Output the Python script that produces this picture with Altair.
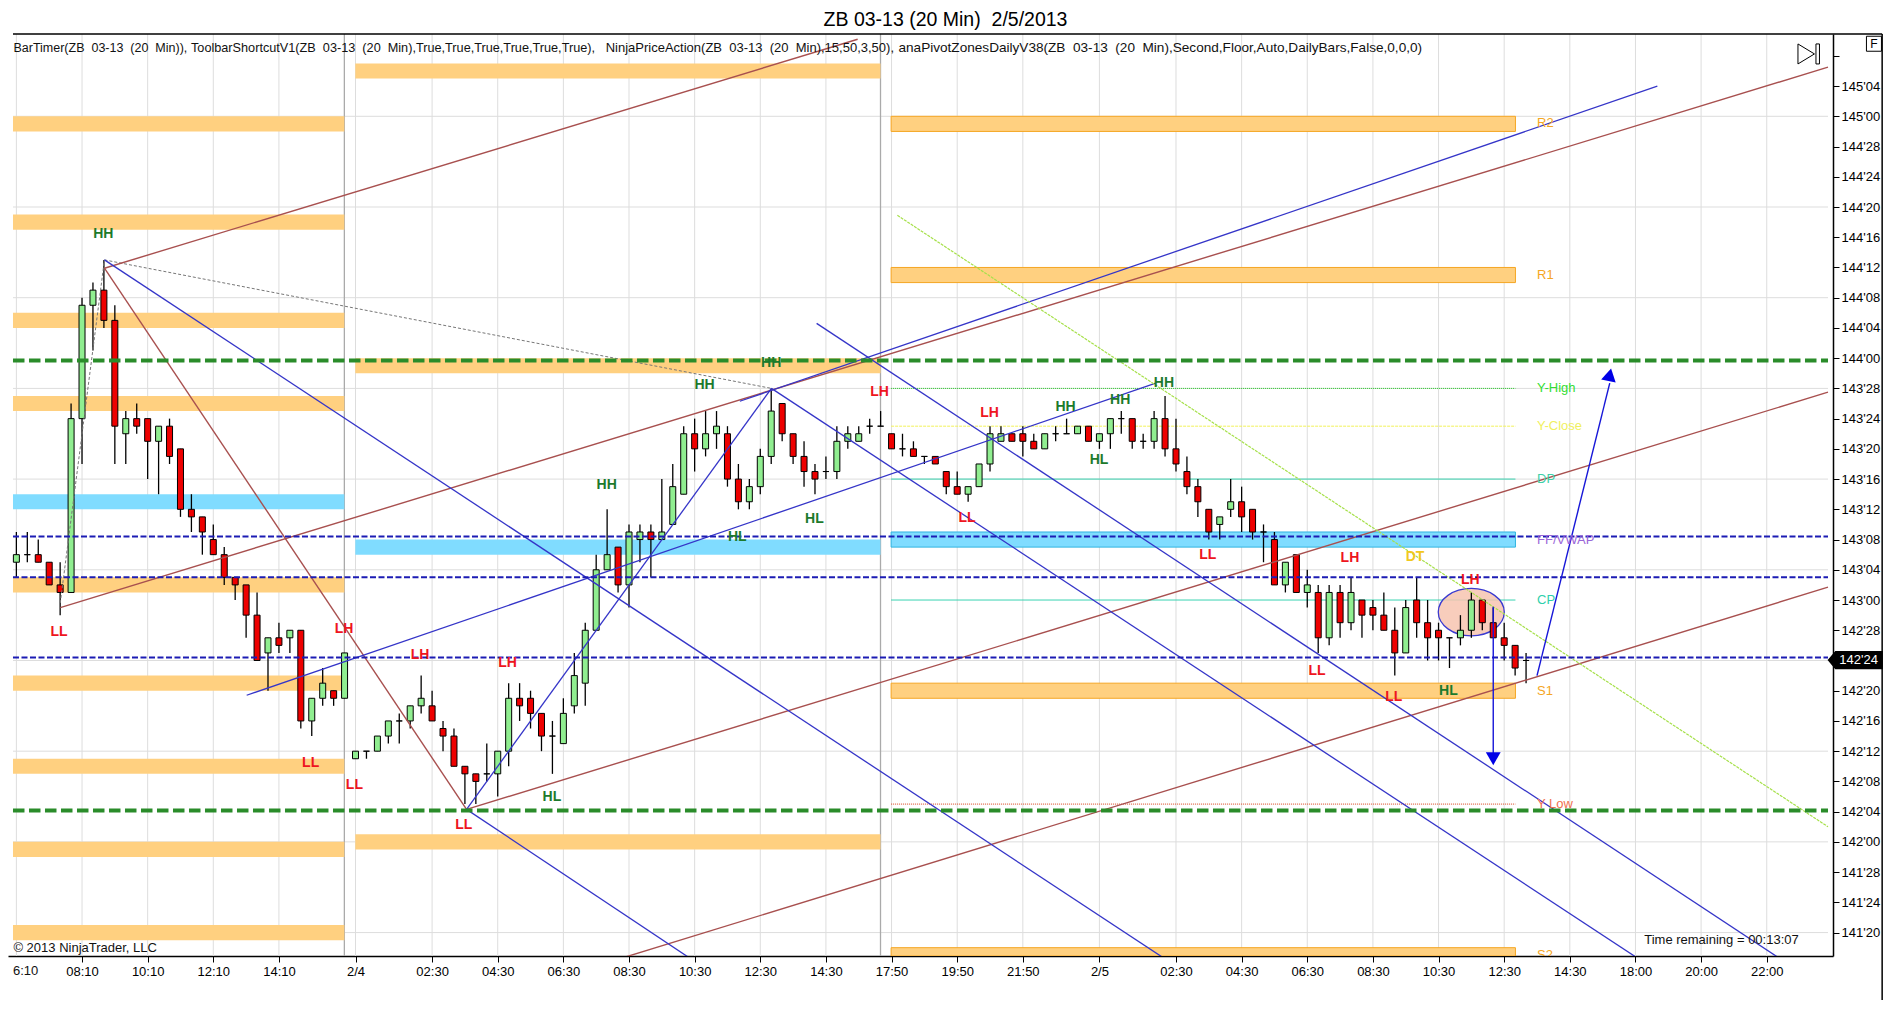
import json
import altair as alt
import pandas as pd

FONT = "Liberation Sans"

# ---- candles: price in 32nds of a point below 144'00, one value per 20 min bar
BODY_TOP = [26,26,26,27,30,8,-7,-9,-9,-5,
            8,8,8,9,9,12,20,21,24,26,
            29,30,34,37,37,36,36,45,43,44,
            39,52,52,50,48,48,46,45,46,49,
            50,54,55,55,52,45,45,45,47,50,
            47,42,36,28,26,25,23,23,23,23,
            17,10,10,10,9,10,16,17,13,7,
            6,10,13,15,15,11,10,10,9,9,
            10,12,12,13,13,15,17,17,14,10,
            10,10,10,11,10,10,10,9,9,10,
            8,8,8,11,8,8,12,15,17,20,
            21,19,19,20,23,24,27,26,30,31,
            31,31,31,32,33,34,36,33,32,35,
            36,37,36,32,32,35,37,38,40]
BODY_BOTTOM = [27,26,27,30,31,31,8,-7,-5,9,
               10,9,11,11,13,20,21,23,26,29,
               30,34,40,39,38,37,48,48,45,45,
               45,53,52,52,50,48,48,46,48,50,
               54,55,56,55,55,52,46,47,50,50,
               51,46,43,36,28,30,30,24,24,24,
               22,18,12,12,10,16,19,19,17,13,
               10,13,15,16,15,15,11,11,9,9,
               12,12,13,13,14,17,18,18,17,14,
               11,11,11,12,12,10,10,10,11,11,
               10,8,11,11,11,12,14,17,19,23,
               22,20,21,23,23,30,30,31,31,37,
               37,35,35,34,34,36,39,39,35,37,
               37,37,37,36,35,37,38,41,40]
HIGH = [23,23,24,27,27,6,-8,-10,-13,-7,
        7,6,8,9,8,12,18,21,22,25,
        29,30,31,37,35,36,36,45,41,44,
        39,52,52,50,48,47,46,42,44,48,
        49,54,55,51,52,43,43,44,47,48,
        45,39,35,26,20,25,22,22,22,16,
        14,9,8,7,7,9,14,16,12,4,
        6,10,11,14,13,9,9,9,8,7,
        10,10,11,13,13,15,15,17,14,9,
        9,10,9,10,10,9,8,9,9,10,
        8,7,8,10,7,5,8,13,16,20,
        21,16,17,20,22,23,27,26,28,30,
        30,30,29,32,32,31,33,32,29,32,
        35,37,34,31,32,33,35,38,39]
LOW = [29,27,27,30,34,31,14,-1,-4,14,
       14,10,16,18,14,21,23,26,26,30,
       32,37,40,44,39,39,49,50,46,46,
       45,53,53,52,51,51,49,47,48,52,
       54,59,59,56,58,54,48,49,52,55,
       51,47,46,36,28,31,33,27,29,24,
       22,18,15,13,12,17,20,20,18,14,
       11,14,17,18,16,16,12,11,10,9,
       12,13,13,14,14,18,18,19,17,15,
       11,11,13,12,12,11,10,10,11,12,
       12,10,12,12,12,13,15,18,21,24,
       24,21,23,24,27,30,31,31,33,39,
       38,37,36,37,36,36,42,39,37,40,
       40,41,38,37,36,37,40,42,43]
RISING = ("g g r r r g g g r r  g r r g r r r r r r  r r r g r g r g g r  g g g g g g g g r r  "
          "r r r g g g r r r g  g g g g g r g g r g  g g r g g r r g g g  r r r r g g g g g g  "
          "r g r g r r r g g g  g r r r g g g g r g  g g r g g r r r r r  g g r r g r g r g r  "
          "g r g r r r r g r r  r g g g r r r r g").split()

# ---- x axis
TICK_BARS = [6,12,18,24,31,38,44,50,56,62,68,74,80,86,92,99,106,112,118,124,130,136,142,148,154,160]
TICK_TEXT = ["08:10","10:10","12:10","14:10","2/4","02:30","04:30","06:30","08:30","10:30","12:30","14:30","17:50",
             "19:50","21:50","2/5","02:30","04:30","06:30","08:30","10:30","12:30","14:30","18:00","20:00","22:00"]
GRID_BARS = [0] + TICK_BARS
SESSION_BREAKS = [29.98, 78.99]

# ---- y axis, 32nds of a point
PRICE_TICKS = list(range(4532, 4652, 4))
PRICE_GRID = [4532,4544,4556,4568,4580,4592,4604,4616,4628,4640]

# ---- pivot zones: first bar, last bar, upper, lower, fill, edge
ORANGE, BLUE = "#ffd080", "#80dcff"
ZONES = [
    (-0.31,29.98,4640,4638,ORANGE,"transparent"),(-0.31,29.98,4627,4625,ORANGE,"transparent"),
    (-0.31,29.98,4614,4612,ORANGE,"transparent"),(-0.31,29.98,4603,4601,ORANGE,"transparent"),
    (-0.31,29.98,4590,4588,BLUE,"transparent"),(-0.31,29.98,4579,4577,ORANGE,"transparent"),
    (-0.31,29.98,4566,4564,ORANGE,"transparent"),(-0.31,29.98,4555,4553,ORANGE,"transparent"),
    (-0.31,29.98,4544,4542,ORANGE,"transparent"),(-0.31,29.98,4533,4531,ORANGE,"transparent"),
    (30.98,78.99,4647,4645,ORANGE,"transparent"),(30.98,78.99,4608,4606,ORANGE,"transparent"),
    (30.98,78.99,4584,4582,BLUE,"transparent"),(30.98,78.99,4545,4543,ORANGE,"transparent"),
    (79.96,137.03,4640,4638,ORANGE,"#f5a623"),(79.96,137.03,4620,4618,ORANGE,"#f5a623"),
    (79.96,137.03,4585,4583,BLUE,"#2fb4e0"),(79.96,137.03,4565,4563,ORANGE,"#f5a623"),
    (79.96,137.03,4530,4528.9,ORANGE,"#f5a623"),
]

# ---- today's pivot lines: price, colour, dash
PIVOT_LINES = [(4604,"#22cc22",[1,1]),(4599,"#f2f25a",[3,1]),(4592,"#2fd0ac",[1,0]),
               (4576,"#2fd0ac",[1,0]),(4549,"#d8401c",[1,1])]
PIVOT_NAMES = [("R2",4639.1,"#f5a623"),("R1",4619,"#f5a623"),("Y-High",4604,"#33dd33"),("Y-Close",4599,"#f0f060"),
               ("DP",4592,"#3fd0a8"),("FF/VWAP",4584,"#9a66d8"),("CP",4576,"#2fd0ac"),("S1",4564,"#f5a623"),
               ("Y Low",4549,"#f07050"),("S2",4529,"#f5a623")]

# ---- full width dashed levels
GREEN_LEVELS = [4607.7, 4548.15]
BLUE_LEVELS = [4584.4, 4579, 4568.4]

# ---- drawn trend lines: bar, price, bar, price
BROWN_LINES = [(8.05,4619.9,76.9,4650.2),(4.01,4575,165.6,4646.5),(41.15,4548.3,165.6,4603.5),
               (55.74,4528.8,165.6,4577.7),(8.05,4619.9,41.15,4548.3)]
BLUE_LINES = [(8.05,4621,104.7,4528.8),(69.02,4604,148,4528.8),(41.15,4548.3,61.37,4528.8),
              (73.15,4612.6,160.95,4528.8),(21.05,4563.4,104.15,4604.7),(66.13,4602.3,150,4644),
              (41.15,4548.3,69.02,4604)]
GRAY_LINES = [(8.05,4621,69.02,4604),(4.01,4575.6,8.05,4621)]
LIME_LINES = [(80.53,4626.9,165.6,4546)]
ARROW_LINES = [(139,4566,145.65,4604.7),(135,4575.1,135,4555.5)]

# ---- swing labels: text, bar, price
SWINGS = [("HH",7.95,4624.4),("LL",3.9,4571.8),("LH",29.95,4572.1),("LH",36.9,4568.7),("LH",44.9,4567.7),
          ("HH",53.96,4591.2),("LL",26.9,4554.5),("LL",30.9,4551.5),("LL",40.9,4546.2),("HL",48.95,4550),
          ("HH",69,4607.3),("HH",62.9,4604.4),("LH",78.9,4603.5),("HL",72.95,4586.7),("HL",65.9,4584.4),
          ("LH",88.95,4600.8),("HH",95.9,4601.5),("HH",100.9,4602.4),("HH",104.9,4604.7),("HL",98.96,4594.5),
          ("LL",86.9,4586.9),("LL",108.9,4581.9),("LH",121.9,4581.5),("DT",127.85,4581.7),("LH",132.9,4578.7),
          ("LL",118.9,4566.6),("LL",125.9,4563.2),("HL",130.9,4564)]
SWING_COLOURS = {"HH":"#1c7a2c","HL":"#1c7a2c","LH":"#ee1520","LL":"#ee1520","DT":"#f2c81e"}

# ---- notes on the panel: text, bar, price, font size
SP = " \u00a0"
NOTES = [(f"BarTimer(ZB{SP}03-13{SP}(20{SP}Min)),",-0.27,4649.1,12.5),
         (f"ToolbarShortcutV1(ZB{SP}03-13{SP}(20{SP}Min),True,True,True,True,True,True),",15.96,4649.1,12.7),
         (f"NinjaPriceAction(ZB{SP}03-13{SP}(20{SP}Min),15,50,3,50),",53.87,4649.1,13),
         (f"anaPivotZonesDailyV38(ZB{SP}03-13{SP}(20{SP}Min),Second,Floor,Auto,DailyBars,False,0,0,0)",80.63,4649.1,13.6),
         ("\u00a9 2013 NinjaTrader, LLC",-0.27,4530,13),
         ("Time remaining = 00:13:07",148.8,4531,13),
         ("6:10",-0.31,4526.95,13)]
TITLE = f"ZB 03-13 (20 Min){SP}2/5/2013"

X_MIN, X_MAX = -0.309, 165.6
Y_MIN, Y_MAX = 4528.9, 4650.89
xs = alt.Scale(domain=[X_MIN, X_MAX], nice=False, zero=False)
ys = alt.Scale(domain=[Y_MIN, Y_MAX], nice=False, zero=False)

x_axis = alt.Axis(values=TICK_BARS, title=None, grid=False, tickSize=6, tickColor="black", domainColor="black",
                  domainWidth=1.5, labelColor="black", labelFont=FONT, labelFontSize=13, labelPadding=3,
                  labelOverlap=False, labelFlush=False,
                  labelExpr=f"{json.dumps(TICK_TEXT)}[indexof({json.dumps(TICK_BARS)},datum.value)]")
y_axis = alt.Axis(values=PRICE_TICKS, orient="right", title=None, grid=False, tickSize=6, tickColor="black",
                  domainColor="black", domainWidth=1.5, labelColor="black", labelFont=FONT, labelFontSize=13,
                  labelPadding=2, labelOverlap=False, labelFlush=False,
                  labelExpr="datum.value==4648 ? '' : floor(datum.value/32)+\"'\"+(datum.value%32<10?'0':'')+(datum.value%32)")
xq = alt.X("x:Q", scale=xs, axis=x_axis)
yq = alt.Y("y:Q", scale=ys, axis=y_axis)

def rows(values, *names):
    return pd.DataFrame(values, columns=list(names))

def segs(lines):
    return rows(lines, "x", "y", "x2", "y2")

def seg_layer(lines, **mark):
    return alt.Chart(segs(lines)).mark_rule(clip=True, **mark).encode(x=xq, y=yq, x2="x2:Q", y2="y2:Q")

layers = []
# grid
layers.append(alt.Chart(pd.DataFrame({"y": PRICE_GRID, "x": [X_MIN]*10, "x2": [X_MAX]*10})).mark_rule(color="#dddddd", strokeWidth=1)
              .encode(x=xq, x2="x2:Q", y=yq))
layers.append(alt.Chart(pd.DataFrame({"x": GRID_BARS})).mark_rule(color="#dddddd", strokeWidth=1).encode(x=xq))
layers.append(alt.Chart(pd.DataFrame({"x": SESSION_BREAKS})).mark_rule(color="#aaaaaa", strokeWidth=1.3).encode(x=xq))
# zones
layers.append(alt.Chart(rows(ZONES, "x", "x2", "y", "y2", "fill", "edge")).mark_rect(clip=True, strokeWidth=1)
              .encode(x=xq, x2="x2:Q", y=yq, y2="y2:Q", fill=alt.Fill("fill:N", scale=None), stroke=alt.Stroke("edge:N", scale=None)))
# pivot lines
for price, colour, dash in PIVOT_LINES:
    layers.append(alt.Chart(pd.DataFrame({"x": [79.96], "x2": [137.03], "y": [price]})).mark_rule(color=colour, strokeWidth=1, strokeDash=dash)
                  .encode(x=xq, x2="x2:Q", y=yq))
# ellipse
layers.append(alt.Chart(pd.DataFrame({"x": [132.99], "y": [4574.4]})).mark_point(
    shape="M-1,0 C-1,-0.397 -0.552,-0.718 0,-0.718 C0.552,-0.718 1,-0.397 1,0 C1,0.397 0.552,0.718 0,0.718 C-0.552,0.718 -1,0.397 -1,0 Z",
    size=4356, filled=True, fill="#f7c4b0", fillOpacity=0.85, stroke="#3a3ad0", strokeWidth=1.3, opacity=1).encode(x=xq, y=yq))
# candles
bars = pd.DataFrame({"x": list(range(len(HIGH))),
                     "top": [4608 - v for v in BODY_TOP], "bottom": [4608 - v for v in BODY_BOTTOM],
                     "high": [4608 - v for v in HIGH], "low": [4608 - v for v in LOW],
                     "fill": ["#90ee90" if v == "g" else "#ee0000" for v in RISING]})
layers.append(alt.Chart(bars).mark_rule(color="black", strokeWidth=1.3)
              .encode(x=xq, y=alt.Y("high:Q", scale=ys, axis=y_axis), y2="low:Q"))
layers.append(alt.Chart(bars).mark_bar(size=6, stroke="black", strokeWidth=1, orient="vertical")
              .encode(x=xq, y=alt.Y("top:Q", scale=ys, axis=y_axis), y2="bottom:Q", fill=alt.Fill("fill:N", scale=None)))
# trend lines
layers.append(seg_layer(GRAY_LINES, color="#777777", strokeWidth=1, strokeDash=[3, 2]))
layers.append(seg_layer(BROWN_LINES, color="#a8504f", strokeWidth=1.4))
layers.append(seg_layer(BLUE_LINES, color="#3535c8", strokeWidth=1.3))
layers.append(seg_layer(LIME_LINES, color="#a6e04a", strokeWidth=1.2, strokeDash=[3, 1]))
# dashed levels
layers.append(alt.Chart(pd.DataFrame({"y": BLUE_LEVELS, "x": [-0.31]*3, "x2": [165.6]*3})).mark_rule(color="#1c1cb4", strokeWidth=2, strokeDash=[6, 2.5])
              .encode(x=xq, x2="x2:Q", y=yq))
layers.append(alt.Chart(pd.DataFrame({"y": GREEN_LEVELS, "x": [-0.31]*2, "x2": [165.6]*2})).mark_rule(color="#2a8c2a", strokeWidth=4, strokeDash=[11.5, 4.5])
              .encode(x=xq, x2="x2:Q", y=yq))
# arrows
layers.append(seg_layer(ARROW_LINES, color="#1616d8", strokeWidth=1.4))
layers.append(alt.Chart(pd.DataFrame({"x": [145.65], "y": [4605.8]})).mark_point(shape="triangle-up", size=220, angle=12, filled=True, color="#0000e6", opacity=1).encode(x=xq, y=yq))
layers.append(alt.Chart(pd.DataFrame({"x": [135], "y": [4555]})).mark_point(shape="triangle-down", size=220, filled=True, color="#0000e6", opacity=1).encode(x=xq, y=yq))
# labels
sw = rows(SWINGS, "t", "x", "y")
sw["c"] = [SWING_COLOURS[t] for t in sw["t"]]
layers.append(alt.Chart(sw).mark_text(font=FONT, fontSize=14, fontWeight="bold")
              .encode(x=xq, y=yq, text="t:N", color=alt.Color("c:N", scale=None)))
pn = rows(PIVOT_NAMES, "t", "y", "c")
pn["x"] = 139
layers.append(alt.Chart(pn).mark_text(font=FONT, fontSize=13, align="left", clip=True)
              .encode(x=xq, y=yq, text="t:N", color=alt.Color("c:N", scale=None)))
layers.append(alt.Chart(rows(NOTES, "t", "x", "y", "s")).mark_text(font=FONT, align="left", color="#111111")
              .encode(x=xq, y=yq, text="t:N", size=alt.Size("s:Q", scale=None)))
# frame and furniture
FRAME_TOP, FRAME_BOTTOM, FRAME_RIGHT = 4650.89, 4522.65, 170.55
layers.append(alt.Chart(segs([(X_MIN,FRAME_TOP,FRAME_RIGHT,FRAME_TOP),(X_MIN,FRAME_BOTTOM,FRAME_RIGHT,FRAME_BOTTOM),
                              (FRAME_RIGHT,FRAME_TOP,FRAME_RIGHT,FRAME_BOTTOM)]))
              .mark_rule(color="black", strokeWidth=1.5).encode(x=xq, y=yq, x2="x2:Q", y2="y2:Q"))
layers.append(alt.Chart(pd.DataFrame({"x": [163.86], "y": [4648.25]})).mark_point(
    shape="M-1.1,-1 L0.55,0 L-1.1,1 Z M0.7,-1 L1.05,-1 L1.05,1 L0.7,1 Z", size=400, stroke="black", strokeWidth=1, opacity=1).encode(x=xq, y=yq))
layers.append(alt.Chart(pd.DataFrame({"x": [169.8], "y": [4649.6]})).mark_point(shape="square", size=225, stroke="black", strokeWidth=1, opacity=1).encode(x=xq, y=yq))
layers.append(alt.Chart(pd.DataFrame({"x": [169.8], "y": [4649.6], "t": ["F"]})).mark_text(font=FONT, fontSize=12, color="black").encode(x=xq, y=yq, text="t:N"))
layers.append(alt.Chart(pd.DataFrame({"x": [168.1], "y": [4568.05]})).mark_point(
    shape="M-1,0 L-0.74,-0.31 L1,-0.31 L1,0.31 L-0.74,0.31 Z", size=2809, filled=True, fill="black", stroke="black", opacity=1).encode(x=xq, y=yq))
layers.append(alt.Chart(pd.DataFrame({"x": [168.4], "y": [4568.1], "t": ["142'24"]})).mark_text(font=FONT, fontSize=13, color="white").encode(x=xq, y=yq, text="t:N"))

chart = alt.layer(*layers).properties(
    width=1825, height=922,
    padding={"left": 0, "top": 26, "right": 55, "bottom": 44},
    autosize=alt.AutoSizeParams(type="none"),
    background="white",
    title=alt.TitleParams(TITLE, font=FONT, fontSize=19.5, fontWeight="normal", color="black", anchor="middle", dx=25, offset=3),
).configure_view(stroke=None)

chart.save("out.html", embed_options={"renderer": "svg", "actions": False})
